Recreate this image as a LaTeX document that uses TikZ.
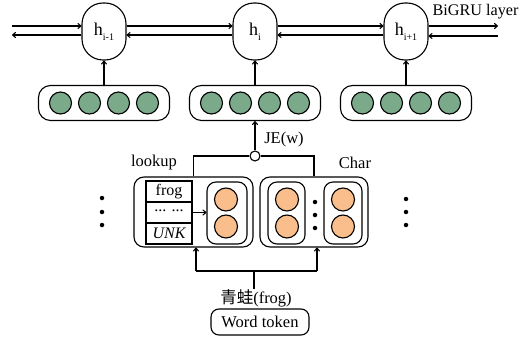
\documentclass[tikz,border=0pt]{standalone}
\usepackage{fontspec}
\setmainfont{Liberation Serif}
\newfontfamily\cjk{Noto Sans CJK SC}
\usetikzlibrary{arrows.meta}
\definecolor{embgreen}{RGB}{123,170,138}
\definecolor{embor}{RGB}{249,190,140}
\begin{document}
\begin{tikzpicture}[x=1pt,y=-1pt, line width=1.1pt,
  >={To[length=4pt,width=6pt]},
  hnode/.style={draw, rounded corners=21pt, minimum width=44pt, minimum height=57pt, inner sep=0pt, font=\fontsize{18}{18}\selectfont},
  vecbox/.style={draw, rounded corners=12pt, minimum width=131pt, minimum height=35pt},
  gdot/.style={circle, draw, fill=embgreen, minimum size=22pt, inner sep=0pt},
  odot/.style={circle, draw, fill=embor, minimum size=23pt, inner sep=0pt},
  ibox/.style={draw, rounded corners=9pt, minimum height=62pt, inner sep=0pt},
  bigbox/.style={draw, rounded corners=10pt, minimum height=70pt, inner sep=0pt},
  cell/.style={draw, minimum width=46pt, minimum height=21pt, inner sep=0pt, font=\fontsize{16}{16}\selectfont},
  txt/.style={font=\fontsize{16.5}{16.5}\selectfont, inner sep=0pt},
  bdot/.style={circle, fill=black, minimum size=4.5pt, inner sep=0pt}
]
\useasboundingbox (0,0) rectangle (522,337);
\newcommand{\hsub}[1]{h\raisebox{-5pt}{\fontsize{10}{10}\selectfont #1}}

% BiGRU nodes
\node[hnode] (h1) at (104,31.5) {\hsub{i-1}};
\node[hnode] (h2) at (255,31.5) {\hsub{i}};
\node[hnode] (h3) at (406,31.5) {\hsub{i+1}};
\node[txt, font=\fontsize{16.2}{16.2}\selectfont, anchor=west] (bigru) at (432,12) {BiGRU layer};

\coordinate (l1) at (12,26);
\coordinate (l2) at (12,35);
\coordinate (r1) at (498,26);
\coordinate (r2) at (498,36);

\draw[->] (l1) -- (l1 -| h1.west);
\draw[<-] (l2) -- (l2 -| h1.west);
\draw[->] (l1 -| h1.east) -- (l1 -| h2.west);
\draw[<-] (l2 -| h1.east) -- (l2 -| h2.west);
\draw[->] (l1 -| h2.east) -- (l1 -| h3.west);
\draw[<-] (l2 -| h2.east) -- (l2 -| h3.west);
\draw[->] (r1 -| h3.east) -- (r1);
\draw[<-] (r2 -| h3.east) -- (r2);

% vector boxes
\foreach \i/\x in {1/104,2/255,3/406}{
  \node[vecbox] (v\i) at (\x,103) {};
  \foreach \j/\d in {1/-43.5,2/-14.5,3/14.5,4/43.5}{
    \node[gdot] (g\i\j) at (\x+\d,103) {};
  }
  \draw[->] (v\i.north) -- (h\i.south);
}

% joint embedding
\node[circle, draw, fill=white, minimum size=10pt, inner sep=0pt] (je) at (255,156) {};
\draw[->] (je) -- (v2.south);
\node[txt] (jel) at (284,140) {JE(w)};

% lookup box
\node[bigbox, minimum width=119pt] (L) at (193.5,212) {};
\node[txt] (lk) at (154,163) {lookup};
\node[cell] (t1) at (169,191.5) {frog};
\node[cell] (t2) at (169,212.5) {\raisebox{3pt}{... ...}};
\node[cell] (t3) at (169,233.5) {\itshape UNK};
\draw[line width=1.5pt] (t1.north west) rectangle (t3.south east);
\node[ibox, minimum width=40pt] (li) at (227,213) {};
\node[odot] (lo1) at (226,199.5) {};
\node[odot] (lo2) at (226,226.5) {};
\draw[->] (t2.east) -- (t2.east -| li.west);

% char box
\node[bigbox, minimum width=108pt] (C) at (314,212) {};
\node[txt] (ch) at (355,163) {Char};
\node[ibox, minimum width=37pt] (c1) at (286.5,213) {};
\node[ibox, minimum width=38pt] (c2) at (343,213) {};
\node[odot] (co1) at (287,199.5) {};
\node[odot] (co2) at (287,226.5) {};
\node[odot] (co3) at (343,199.5) {};
\node[odot] (co4) at (343,226.5) {};
\foreach \y in {202,215,228} \node[bdot] at (315,\y) {};

% side dots
\foreach \y in {198,212,225} \node[bdot] at (102,\y) {};
\foreach \y in {199,212,225} \node[bdot] at (406,\y) {};

% je to boxes
\draw (je.west) -| (L.north);
\draw (je.east) -| (C.north);

% bottom
\node[txt] (fr) at (256,298) {{\cjk 青蛙}(frog)};
\node[draw, rounded corners=8pt, minimum width=98pt, minimum height=26pt, inner sep=0pt, font=\fontsize{16.5}{16.5}\selectfont] (wt) at (260,322) {Word token};
\coordinate (bm) at (254,271);
\coordinate (bl) at (196,271);
\coordinate (br) at (317,271);
\draw (bm) -- (bm |- fr.north);
\draw (bl) -- (br);
\draw[->] (bl) -- (bl |- L.south);
\draw[->] (br) -- (br |- C.south);
\end{tikzpicture}
\end{document}
